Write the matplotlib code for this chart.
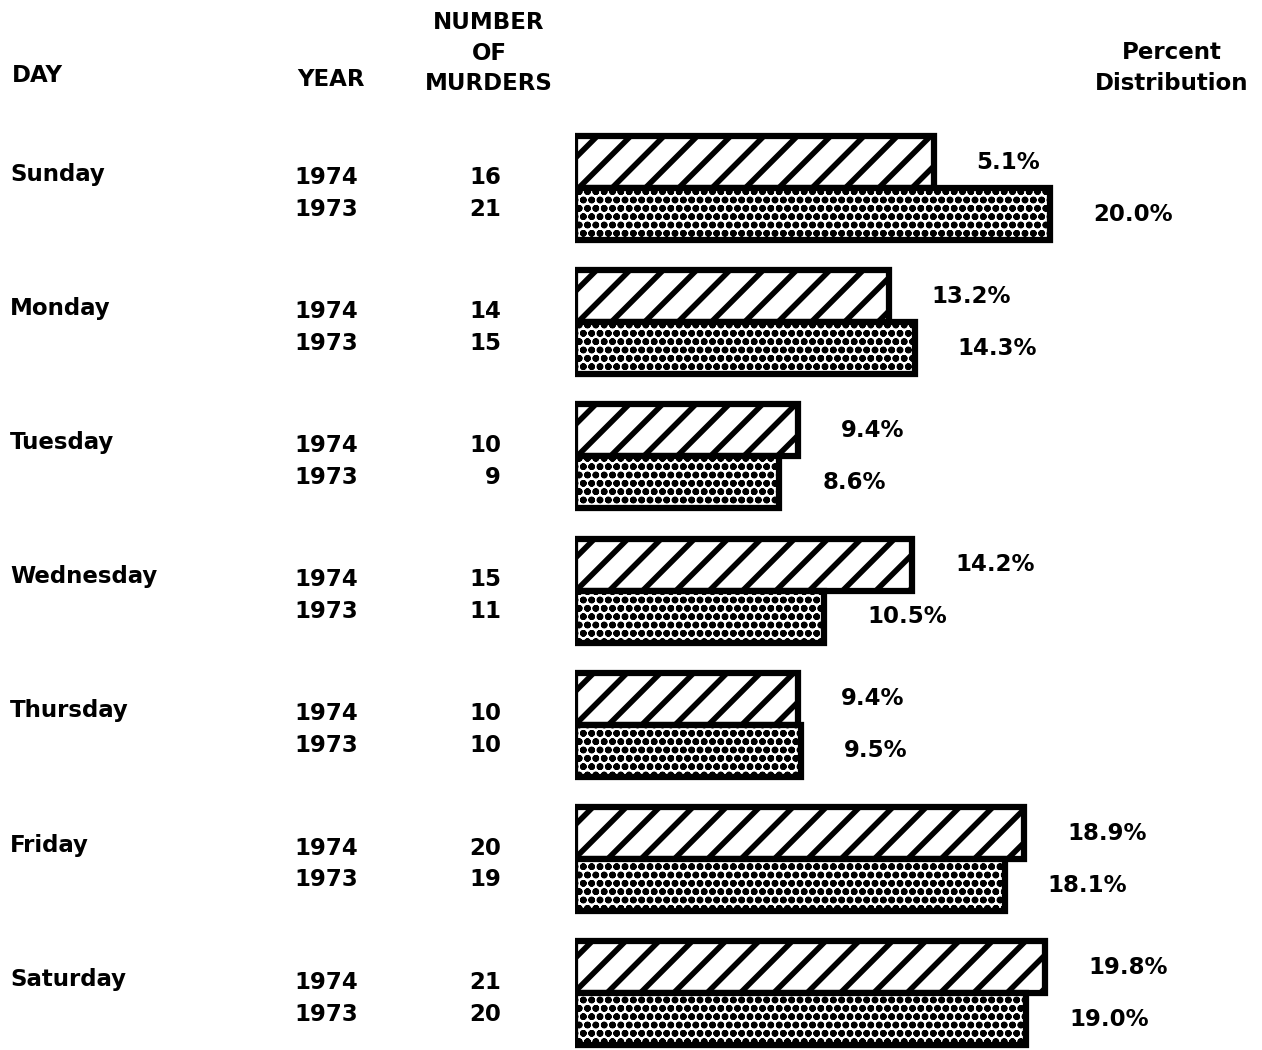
import matplotlib.pyplot as plt
import matplotlib.transforms as mtransforms

# data
days = ["Sunday", "Monday", "Tuesday", "Wednesday", "Thursday", "Friday", "Saturday"]
murders_1974 = [16, 14, 10, 15, 10, 20, 21]
murders_1973 = [21, 15, 9, 11, 10, 19, 20]
# bar lengths as drawn (Sunday 1974 bar is drawn at ~15.1 although labelled 5.1%)
bars_1974 = [15.1, 13.2, 9.4, 14.2, 9.4, 18.9, 19.8]
bars_1973 = [20.0, 14.3, 8.6, 10.5, 9.5, 18.1, 19.0]
labels_1974 = ["5.1%", "13.2%", "9.4%", "14.2%", "9.4%", "18.9%", "19.8%"]
labels_1973 = ["20.0%", "14.3%", "8.6%", "10.5%", "9.5%", "18.1%", "19.0%"]

W, H = 1262, 1050
px_per_unit = 23.75      # pixels per percent
x0 = 575                 # left edge of the bars
y_first, y_step = 188, 134.2
bar_h = 52 / y_step

plt.rcParams['font.family'] = ['DejaVu Sans']
plt.rcParams['font.weight'] = 'bold'
fs = 16.5

fig = plt.figure(figsize=(W / 100, H / 100), dpi=100)
ax = fig.add_axes([x0 / W, 0, 1 - x0 / W, 1])
ax.set_xlim(0, (W - x0) / px_per_unit)
ax.set_ylim((H - y_first) / y_step, -y_first / y_step)
ax.axis("off")

pos = list(range(len(days)))
top = [p - bar_h / 2 for p in pos]
bot = [p + bar_h / 2 for p in pos]

b1 = ax.barh(top, bars_1974, height=bar_h, left=0, facecolor="white",
             edgecolor="black", linewidth=4.5, hatch="/")
b2 = ax.barh(bot, bars_1973, height=bar_h, left=0, facecolor="white",
             edgecolor="black", linewidth=4.5, hatch="oo")
for p in b1:
    if hasattr(p, "set_hatch_linewidth"):
        p.set_hatch_linewidth(4.0)
for p in b2:
    if hasattr(p, "set_hatch_linewidth"):
        p.set_hatch_linewidth(2.4)

gap = 43 / px_per_unit
for i in pos:
    ax.text(bars_1974[i] + gap, top[i], labels_1974[i], fontsize=fs,
            fontweight="bold", va="center", ha="left")
    ax.text(bars_1973[i] + gap, bot[i], labels_1973[i], fontsize=fs,
            fontweight="bold", va="center", ha="left")

# left table columns: x in figure pixels, y in data
tr = mtransforms.blended_transform_factory(fig.transFigure, ax.transData)
for i in pos:
    ax.text(10 / W, i - 14 / y_step, days[i], transform=tr, fontsize=fs,
            fontweight="bold", ha="left", va="center", clip_on=False)
    ax.text(358 / W, i - 11 / y_step, "1974", transform=tr, fontsize=fs,
            fontweight="bold", ha="right", va="center", clip_on=False)
    ax.text(358 / W, i + 21 / y_step, "1973", transform=tr, fontsize=fs,
            fontweight="bold", ha="right", va="center", clip_on=False)
    ax.text(501 / W, i - 11 / y_step, str(murders_1974[i]), transform=tr,
            fontsize=fs, fontweight="bold", ha="right", va="center", clip_on=False)
    ax.text(501 / W, i + 21 / y_step, str(murders_1973[i]), transform=tr,
            fontsize=fs, fontweight="bold", ha="right", va="center", clip_on=False)

# headers
fig.text(12 / W, 1 - 76 / H, "DAY", fontsize=fs, fontweight="bold",
         ha="left", va="center")
fig.text(331 / W, 1 - 80 / H, "YEAR", fontsize=fs, fontweight="bold",
         ha="center", va="center")
fig.text(489 / W, 1 - 53 / H, "NUMBER\nOF\nMURDERS", fontsize=fs,
         fontweight="bold", ha="center", va="center", linespacing=1.4)
fig.text(1172 / W, 1 - 68 / H, "Percent\nDistribution", fontsize=fs,
         fontweight="bold", ha="center", va="center", linespacing=1.4)

fig.savefig("out.png", dpi=100, facecolor="white")
